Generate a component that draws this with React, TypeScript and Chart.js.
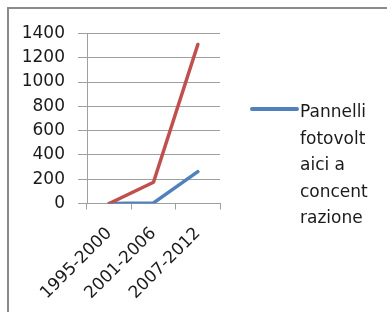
import React, { useEffect, useRef } from "react";
import { Chart, registerables } from "chart.js";

Chart.register(...registerables);

const categories = ["1995-2000", "2001-2006", "2007-2012"];
const blueValues = [0, 5, 262];
const redValues = [0, 175, 1310];
const blueName = "Pannelli fotovoltaici a concentrazione";
const redName = "Serie 2";
const legendLines = ["Pannelli", "fotovolt", "aici a", "concent", "razione"];
const yMin = 0;
const yMax = 1400;
const yStep = 200;

const BLUE = "#4F81BD";
const RED = "#C0504D";
const GRID = "#9f9f9f";
const TEXT = "#1a1a1a";
const FONT_FAMILY = "'DejaVu Sans', sans-serif";
const FONT_SIZE = 17;

const legendPlugin = {
  id: "wrappedLegend",
  afterDraw(chart: any) {
    const { ctx, chartArea } = chart;
    const x0 = chartArea.right + 32;
    const lineY = chartArea.top + 75.5;
    ctx.save();
    ctx.strokeStyle = BLUE;
    ctx.lineWidth = 4;
    ctx.lineCap = "round";
    ctx.beginPath();
    ctx.moveTo(x0, lineY);
    ctx.lineTo(x0 + 45, lineY);
    ctx.stroke();
    ctx.fillStyle = TEXT;
    ctx.font = `${FONT_SIZE}px ${FONT_FAMILY}`;
    ctx.textAlign = "left";
    ctx.textBaseline = "alphabetic";
    legendLines.forEach((line, i) => {
      ctx.fillText(line, x0 + 48, chartArea.top + 83.5 + i * 26.5);
    });
    ctx.restore();
  },
};

export default function App() {
  const ref = useRef<HTMLCanvasElement | null>(null);

  useEffect(() => {
    if (!ref.current) return;
    const chart = new Chart(ref.current, {
      type: "line",
      data: {
        labels: categories,
        datasets: [
          {
            label: blueName,
            data: blueValues,
            borderColor: BLUE,
            backgroundColor: BLUE,
            borderWidth: 3.5,
            pointRadius: 0,
            tension: 0,
            borderJoinStyle: "round",
            borderCapStyle: "round",
            order: 1,
          },
          {
            label: redName,
            data: redValues,
            borderColor: RED,
            backgroundColor: RED,
            borderWidth: 3.5,
            pointRadius: 0,
            tension: 0,
            borderJoinStyle: "round",
            borderCapStyle: "round",
            order: 0,
          },
        ],
      },
      options: {
        animation: false,
        responsive: false,
        devicePixelRatio: 1,
        layout: { padding: { top: 24.5, right: 167, bottom: 0, left: 0 } },
        plugins: {
          legend: { display: false },
          tooltip: { enabled: false },
        },
        scales: {
          x: {
            offset: true,
            grid: {
              drawOnChartArea: false,
              drawTicks: true,
              tickLength: 6,
              offset: true,
              color: GRID,
            },
            border: { color: GRID, width: 1 },
            ticks: {
              color: TEXT,
              font: { family: FONT_FAMILY, size: FONT_SIZE },
              maxRotation: 45,
              minRotation: 45,
              padding: 14,
              autoSkip: false,
            },
            afterFit(scale: any) {
              scale.height = 108.5;
            },
          },
          y: {
            min: yMin,
            max: yMax,
            grid: {
              color: GRID,
              drawTicks: true,
              tickLength: 9,
            },
            border: { color: GRID, width: 1 },
            ticks: {
              stepSize: yStep,
              color: TEXT,
              font: { family: FONT_FAMILY, size: FONT_SIZE },
              padding: 13,
              callback: (v: any) => String(v),
            },
            afterFit(scale: any) {
              scale.width = 78;
            },
          },
        },
      },
      plugins: [legendPlugin],
    });
    return () => chart.destroy();
  }, []);

  return (
    <div
      style={{
        position: "fixed",
        left: 7,
        top: 7,
        width: 378,
        height: 303,
        borderTop: "2px solid #8a8a8a",
        borderLeft: "2px solid #8a8a8a",
        background: "#fff",
        overflow: "hidden",
      }}
    >
      <canvas ref={ref} width={378} height={303} style={{ display: "block" }} />
    </div>
  );
}
